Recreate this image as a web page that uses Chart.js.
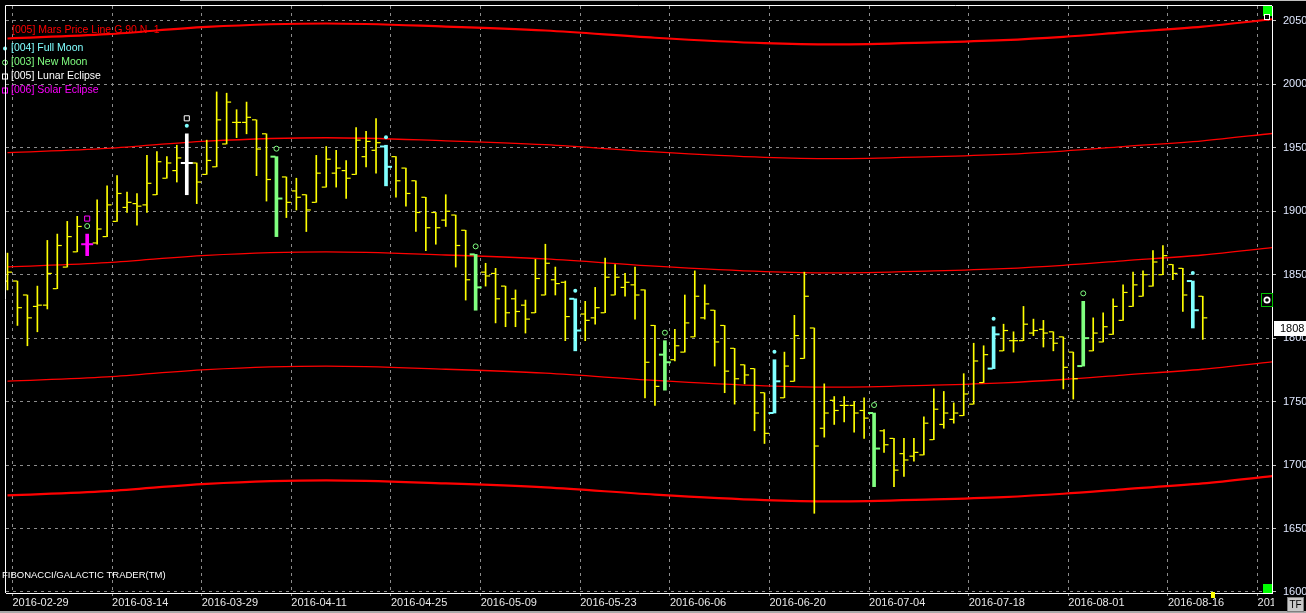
<!DOCTYPE html>
<html lang="en">
<head>
<meta charset="UTF-8" />
<title>Mars Price Lines - Galactic Trader</title>
<script src="https://cdn.jsdelivr.net/npm/chart.js"></script>
<style>
  html, body {
    margin: 0;
    padding: 0;
    background: #000;
    overflow: hidden;
  }
  #wrap {
    width: 1306px;
    height: 613px;
  }
</style>
</head>
<body>

<div id="wrap"><canvas id="chart" width="1306" height="613"></canvas></div>

<script>
// trading days shown on the chart, plus the empty future slots on the right
var dates = [
  '2016-02-26','2016-02-29','2016-03-01','2016-03-02','2016-03-03','2016-03-04',
  '2016-03-07','2016-03-08','2016-03-09','2016-03-10','2016-03-11',
  '2016-03-14','2016-03-15','2016-03-16','2016-03-17','2016-03-18',
  '2016-03-21','2016-03-22','2016-03-23','2016-03-24',
  '2016-03-29','2016-03-30','2016-03-31','2016-04-01',
  '2016-04-04','2016-04-05','2016-04-06','2016-04-07','2016-04-08',
  '2016-04-11','2016-04-12','2016-04-13','2016-04-14','2016-04-15',
  '2016-04-18','2016-04-19','2016-04-20','2016-04-21','2016-04-22',
  '2016-04-25','2016-04-26','2016-04-27','2016-04-28','2016-04-29',
  '2016-05-03','2016-05-04','2016-05-05','2016-05-06',
  '2016-05-09','2016-05-10','2016-05-11','2016-05-12','2016-05-13',
  '2016-05-16','2016-05-17','2016-05-18','2016-05-19','2016-05-20',
  '2016-05-23','2016-05-24','2016-05-25','2016-05-26','2016-05-27',
  '2016-05-31','2016-06-01','2016-06-02','2016-06-03',
  '2016-06-06','2016-06-07','2016-06-08','2016-06-09','2016-06-10',
  '2016-06-13','2016-06-14','2016-06-15','2016-06-16','2016-06-17',
  '2016-06-20','2016-06-21','2016-06-22','2016-06-23','2016-06-24',
  '2016-06-27','2016-06-28','2016-06-29','2016-06-30','2016-07-01',
  '2016-07-04','2016-07-05','2016-07-06','2016-07-07','2016-07-08',
  '2016-07-11','2016-07-12','2016-07-13','2016-07-14','2016-07-15',
  '2016-07-18','2016-07-19','2016-07-20','2016-07-21','2016-07-22',
  '2016-07-25','2016-07-26','2016-07-27','2016-07-28','2016-07-29',
  '2016-08-01','2016-08-02','2016-08-03','2016-08-04','2016-08-05',
  '2016-08-08','2016-08-09','2016-08-10','2016-08-11','2016-08-12',
  '2016-08-16','2016-08-17','2016-08-18','2016-08-19',
  '2016-08-22','2016-08-23','2016-08-24','2016-08-25','2016-08-26',
  '2016-08-29','2016-08-30'
];

var open = [
  1845,1845,1834,1825,1826,1839,1856,1868,1874,1875,
  1880,1892,1903,1906,1905,1913,1926,1932,1938,1938,
  1929,1935,1953,1970,1970,1972,1961,1943,1927,1916,
  1913,1907,1919,1930,1932,1929,1943,1948,1951,1943,
  1934,1924,1911,1899,1893,1897,1885,1866,1852,1851,
  1841,1831,1826,1820,1834,1846,1844,1831,1819,1816,
  1820,1834,1840,1842,1838,1810,1787,1783,1789,1801,
  1816,1822,1810,1792,1779,1776,1757,1741,1753,1766,
  1784,1808,1729,1751,1747,1747,1743,1741,1727,1721,
  1709,1707,1708,1720,1732,1736,1739,1748,1765,1776,
  1790,1798,1798,1804,1807,1805,1801,1789,1778,1790,
  1797,1803,1814,1825,1833,1841,1850,1858,1855,1845,
  1833
];
var high = [
  1867,1845,1834,1841,1877,1882,1892,1896,1882,1909,
  1920,1928,1915,1914,1944,1947,1943,1952,1961,1938,
  1956,1994,1993,1980,1986,1972,1961,1943,1927,1926,
  1913,1944,1951,1948,1940,1966,1963,1973,1952,1943,
  1934,1924,1911,1899,1913,1897,1885,1866,1859,1855,
  1841,1838,1830,1862,1874,1856,1845,1831,1829,1840,
  1863,1858,1851,1856,1838,1810,1798,1807,1834,1853,
  1842,1822,1810,1792,1779,1776,1757,1783,1789,1818,
  1852,1808,1764,1754,1754,1750,1753,1741,1728,1721,
  1721,1721,1738,1760,1758,1749,1772,1796,1794,1809,
  1811,1805,1825,1815,1814,1805,1801,1789,1829,1816,
  1820,1831,1842,1852,1853,1869,1873,1858,1855,1845,
  1833
];
var low = [
  1838,1810,1794,1805,1823,1839,1856,1868,1865,1874,
  1880,1892,1899,1889,1899,1913,1926,1923,1913,1906,
  1929,1935,1953,1958,1961,1928,1908,1880,1895,1901,
  1884,1907,1919,1919,1910,1929,1935,1930,1920,1911,
  1904,1884,1869,1874,1888,1856,1830,1822,1841,1812,
  1809,1809,1804,1820,1834,1834,1798,1790,1798,1811,
  1820,1834,1833,1815,1753,1747,1759,1782,1789,1801,
  1815,1778,1757,1748,1764,1727,1717,1741,1753,1766,
  1784,1662,1722,1732,1734,1726,1721,1683,1710,1683,
  1691,1703,1708,1720,1729,1733,1739,1748,1765,1776,
  1790,1789,1798,1802,1793,1790,1760,1752,1778,1790,
  1797,1803,1814,1825,1833,1841,1850,1846,1821,1808,
  1799
];
var close = [
  1852,1824,1816,1826,1851,1873,1880,1888,1874,1886,
  1905,1914,1907,1904,1922,1939,1938,1942,1938,1923,
  1940,1972,1986,1970,1974,1949,1925,1910,1907,1911,
  1901,1930,1941,1934,1926,1956,1955,1954,1935,1924,
  1914,1899,1887,1887,1900,1873,1846,1840,1849,1831,
  1820,1821,1815,1847,1859,1843,1817,1806,1814,1824,
  1848,1848,1844,1834,1781,1762,1781,1794,1812,1833,
  1827,1797,1774,1768,1771,1741,1725,1766,1778,1802,
  1833,1715,1741,1743,1747,1741,1737,1713,1716,1696,
  1704,1710,1733,1744,1741,1741,1756,1782,1787,1803,
  1806,1798,1811,1806,1804,1796,1777,1768,1800,1804,
  1809,1825,1836,1842,1850,1860,1865,1851,1834,1822,
  1816
];

// bars that carry a lunar event (index into dates)
var fullMoon = [18, 38, 57, 77, 99, 119];
var newMoon = [8, 27, 47, 66, 87, 108];
var lunarEclipse = [18];
var solarEclipse = [8];

// Mars price lines (G 90 N -1), read at these dates
var marsDates = ['2016-02-26','2016-03-11','2016-03-29','2016-04-14','2016-05-03','2016-05-17',
  '2016-06-02','2016-06-17','2016-06-28','2016-07-12','2016-07-21','2016-07-29',
  '2016-08-08','2016-08-19','2016-08-30'];
var marsPlus180 = [2036.1,2039.5,2045.2,2047.9,2045.5,2042.4,2036.7,2032.4,2031.4,2033.0,2034.8,2037.4,2040.9,2045.5,2051.3];
var marsPlus90  = [1946.1,1949.5,1955.2,1957.9,1955.5,1952.4,1946.7,1942.4,1941.4,1943.0,1944.8,1947.4,1950.9,1955.5,1961.3];
var marsBase    = [1856.1,1859.5,1865.2,1867.9,1865.5,1862.4,1856.7,1852.4,1851.4,1853.0,1854.8,1857.4,1860.9,1865.5,1871.3];
var marsMinus90 = [1766.1,1769.5,1775.2,1777.9,1775.5,1772.4,1766.7,1762.4,1761.4,1763.0,1764.8,1767.4,1770.9,1775.5,1781.3];
var marsMinus180= [1676.1,1679.5,1685.2,1687.9,1685.5,1682.4,1676.7,1672.4,1671.4,1673.0,1674.8,1677.4,1680.9,1685.5,1691.3];

var xTickLabels = ['2016-02-29','2016-03-14','2016-03-29','2016-04-11','2016-04-25','2016-05-09',
  '2016-05-23','2016-06-06','2016-06-20','2016-07-04','2016-07-18','2016-08-01','2016-08-16','2016-08-29'];
var yTickValues = [1600,1650,1700,1750,1800,1850,1900,1950,2000,2050];

var legendLabels = ['[005] Mars Price Line G 90 N -1','[004] Full Moon','[003] New Moon','[005] Lunar Eclipse','[006] Solar Eclipse'];
var footerText = 'FIBONACCI/GALACTIC TRADER(TM)';
var lastPrice = 1808;
var alertPrice = 1830;
var nextBarDate = '2016-08-22';

var YELLOW = '#ffff00', CYAN = '#80ffff', GREEN = '#80ff80', WHITE = '#ffffff', MAGENTA = '#ff00ff', RED = '#ff0000';
var legendColors = [RED, CYAN, GREEN, WHITE, MAGENTA];
var MARK_GAP1 = 6.3, MARK_GAP2 = 12.2;   // marker lift above the high, in price units
var FONT = '"Liberation Sans", Arial, sans-serif';

function eventColor(i) {
  if (solarEclipse.indexOf(i) >= 0) return MAGENTA;
  if (lunarEclipse.indexOf(i) >= 0) return WHITE;
  if (fullMoon.indexOf(i) >= 0) return CYAN;
  if (newMoon.indexOf(i) >= 0) return GREEN;
  return null;
}

var plainBars = [], plainOpen = [], plainClose = [];
var evBars = [], evOpen = [], evClose = [], evColors = [];
for (var i = 0; i < close.length; i++) {
  var col = eventColor(i);
  if (col) {
    evBars.push({ x: i, y: [low[i], high[i]] });
    evOpen.push({ x: i - 0.35, y: open[i] });
    evClose.push({ x: i + 0.35, y: close[i] });
    evColors.push(col);
  } else {
    plainBars.push({ x: i, y: [low[i], high[i]] });
    plainOpen.push({ x: i - 0.25, y: open[i] });
    plainClose.push({ x: i + 0.25, y: close[i] });
  }
}

function markers(list, gap) {
  return list.map(function (i) { return { x: i, y: high[i] + gap }; });
}
function marsLine(values) {
  return values.map(function (v, k) { return { x: dates.indexOf(marsDates[k]), y: v }; });
}
function tickSet(data, colors, r, w, order) {
  return { type: 'scatter', data: data, showLine: false, pointStyle: 'line', pointRadius: r,
    pointBorderColor: colors, pointBorderWidth: w, order: order };
}

var datasets = [
  { type: 'scatter', data: markers(fullMoon, MARK_GAP1), pointStyle: 'circle', pointRadius: 2,
    pointBackgroundColor: CYAN, pointBorderColor: CYAN, pointBorderWidth: 0, order: 0 },
  { type: 'scatter', data: markers(newMoon, MARK_GAP1), pointStyle: 'circle', pointRadius: 2.5,
    pointBackgroundColor: 'rgba(0,0,0,0)', pointBorderColor: GREEN, pointBorderWidth: 1, order: 0 },
  { type: 'scatter', data: markers(lunarEclipse, MARK_GAP2), pointStyle: 'rect', pointRadius: 3.6,
    pointBackgroundColor: 'rgba(0,0,0,0)', pointBorderColor: WHITE, pointBorderWidth: 1, order: 0 },
  { type: 'scatter', data: markers(solarEclipse, MARK_GAP2), pointStyle: 'rect', pointRadius: 3.6,
    pointBackgroundColor: 'rgba(0,0,0,0)', pointBorderColor: MAGENTA, pointBorderWidth: 1, order: 0 },
  tickSet(evOpen, evColors, 2.5, 2, 1),
  tickSet(evClose, evColors, 2.5, 2, 1),
  { type: 'bar', data: evBars, backgroundColor: evColors, barThickness: 3, grouped: false, borderWidth: 0, order: 2 },
  tickSet(plainOpen, YELLOW, 2, 1.2, 3),
  tickSet(plainClose, YELLOW, 2, 1.2, 3),
  { type: 'bar', data: plainBars, backgroundColor: YELLOW, barThickness: 1, grouped: false, borderWidth: 0, order: 4 }
];
[marsPlus180, marsPlus90, marsBase, marsMinus90, marsMinus180].forEach(function (vals, k) {
  datasets.push({ type: 'line', data: marsLine(vals), borderColor: RED,
    borderWidth: (k === 0 || k === 4) ? 2.2 : 1.3, pointRadius: 0,
    cubicInterpolationMode: 'monotone', order: 5 });
});

var chartDecor = {
  id: 'chartDecor',
  beforeDraw: function (chart) {
    var ctx = chart.ctx;
    ctx.save();
    ctx.fillStyle = '#000';
    ctx.fillRect(0, 0, chart.width, chart.height);
    ctx.restore();
  },
  beforeDatasetsDraw: function (chart) {
    var ctx = chart.ctx;
    ctx.save();
    ctx.font = '10.5px ' + FONT;
    ctx.textBaseline = 'middle';
    legendLabels.forEach(function (label, k) {
      var y = k === 0 ? 30 : 48.5 + (k - 1) * 14;
      ctx.fillStyle = legendColors[k];
      ctx.fillText(label, k === 0 ? 12 : 11, y);
      ctx.strokeStyle = legendColors[k];
      ctx.lineWidth = 1;
      if (k === 1) {
        ctx.beginPath(); ctx.arc(5, y, 2, 0, Math.PI * 2); ctx.fill();
      } else if (k === 2) {
        ctx.beginPath(); ctx.arc(5, y, 2.5, 0, Math.PI * 2); ctx.stroke();
      } else if (k > 2) {
        ctx.strokeRect(2.5, y - 2.5, 5, 5);
      }
    });
    ctx.fillStyle = '#ffffff';
    ctx.font = '9.5px ' + FONT;
    ctx.fillText(footerText, 2, 575);
    ctx.restore();
  },
  afterDraw: function (chart) {
    var ctx = chart.ctx, a = chart.chartArea, ys = chart.scales.y, xs = chart.scales.x;
    ctx.save();
    // left and top edge of the frame
    ctx.strokeStyle = '#ffffff';
    ctx.lineWidth = 1;
    ctx.beginPath();
    ctx.moveTo(a.left - 0.5, a.bottom);
    ctx.lineTo(a.left - 0.5, a.top - 0.5);
    ctx.lineTo(a.right, a.top - 0.5);
    ctx.stroke();
    ctx.fillStyle = '#c0c0c0';
    ctx.fillRect(180, 0, chart.width - 180, 1);

    // the last date label runs under the price panel
    ctx.fillStyle = '#000';
    ctx.fillRect(a.right + 2, a.bottom + 4, chart.width - a.right, chart.height - a.bottom);

    // last price box
    var py = ys.getPixelForValue(lastPrice);
    ctx.fillStyle = '#ffffff';
    ctx.fillRect(a.right + 2, Math.round(py) - 7, chart.width - a.right - 2, 15);
    ctx.fillStyle = '#000';
    ctx.font = '11px ' + FONT;
    ctx.textBaseline = 'middle';
    ctx.fillText(String(lastPrice), a.right + 8, Math.round(py) + 0.5);

    // alert widget
    var ay = Math.round(ys.getPixelForValue(alertPrice));
    ctx.fillStyle = '#000';
    ctx.fillRect(a.right - 10, ay - 6, 10, 12);
    ctx.strokeStyle = '#00c000';
    ctx.strokeRect(a.right - 10.5, ay - 6.5, 11, 13);
    ctx.fillStyle = '#ffffff';
    ctx.beginPath(); ctx.arc(a.right - 5, ay, 3.5, 0, Math.PI * 2); ctx.fill();
    ctx.fillStyle = '#000';
    ctx.beginPath(); ctx.arc(a.right - 5, ay, 1.8, 0, Math.PI * 2); ctx.fill();

    // scroll handles at the right edge
    ctx.fillStyle = '#00ff00';
    ctx.fillRect(a.right - 9, a.top, 9, 10);
    ctx.fillRect(a.right - 9, a.bottom - 9, 9, 9);
    ctx.fillStyle = '#000';
    ctx.fillRect(a.right - 7, a.top + 8, 5, 5);
    ctx.strokeStyle = '#ffffff';
    ctx.strokeRect(a.right - 7.5, a.top + 8.5, 5, 5);

    // next bar marker on the time axis
    var nx = xs.getPixelForValue(dates.indexOf(nextBarDate));
    ctx.fillStyle = YELLOW;
    ctx.fillRect(Math.round(nx) - 2, a.bottom - 1, 4, 6);

    // bottom strip and TF button
    ctx.fillStyle = '#a8a8a8';
    ctx.fillRect(0, chart.height - 2, chart.width, 2);
    ctx.fillStyle = '#c8c8c8';
    ctx.fillRect(1287, 597, 17, 15);
    ctx.strokeStyle = '#808080';
    ctx.strokeRect(1287.5, 597.5, 16, 14);
    ctx.fillStyle = '#000';
    ctx.font = '10px ' + FONT;
    ctx.textAlign = 'center';
    ctx.fillText('TF', 1295.5, 605);
    ctx.restore();
  }
};

var ctx = document.getElementById('chart').getContext('2d');
var chart = new Chart(ctx, {
  type: 'scatter',
  data: { datasets: datasets },
  plugins: [chartDecor],
  options: {
    responsive: false,
    devicePixelRatio: 1,
    animation: false,
    events: [],
    layout: { padding: { left: 1, top: 3, right: 0, bottom: 0 } },
    plugins: {
      legend: { display: false },
      tooltip: { enabled: false }
    },
    scales: {
      x: {
        type: 'linear',
        min: -0.15,
        max: 126.95,
        offset: false,
        grid: { offset: false, color: '#8c8c8c', lineWidth: 1, tickLength: 3, tickColor: '#8c8c8c', tickBorderDash: [] },
        border: { display: true, color: '#ffffff', width: 1, dash: [3, 4] },
        afterBuildTicks: function (axis) {
          axis.ticks = xTickLabels.map(function (d) { return { value: dates.indexOf(d) - 0.5 }; });
        },
        afterFit: function (s) {
          s.height = 20;
          s.paddingLeft = 0;
          s.paddingRight = 0;
        },
        ticks: {
          autoSkip: false,
          maxRotation: 0,
          minRotation: 0,
          align: 'start',
          padding: 0,
          color: '#e8e8e8',
          font: { family: FONT, size: 11 },
          callback: function (v, idx) { return xTickLabels[idx]; }
        }
      },
      y: {
        type: 'linear',
        position: 'right',
        min: 1599.2,
        max: 2061.7,
        grid: { color: '#8c8c8c', lineWidth: 1, tickLength: 4, tickColor: '#c0c0c0', tickBorderDash: [] },
        border: { display: true, color: '#ffffff', width: 1, dash: [3, 4] },
        afterBuildTicks: function (axis) {
          axis.ticks = yTickValues.map(function (v) { return { value: v }; });
        },
        afterFit: function (s) {
          s.width = 34;
          s.paddingTop = 0;
          s.paddingBottom = 0;
        },
        ticks: {
          autoSkip: false,
          padding: 7,
          color: '#e0e8ff',
          font: { family: FONT, size: 11 },
          callback: function (v) { return String(v); }
        }
      }
    }
  }
});
</script>

</body>
</html>
